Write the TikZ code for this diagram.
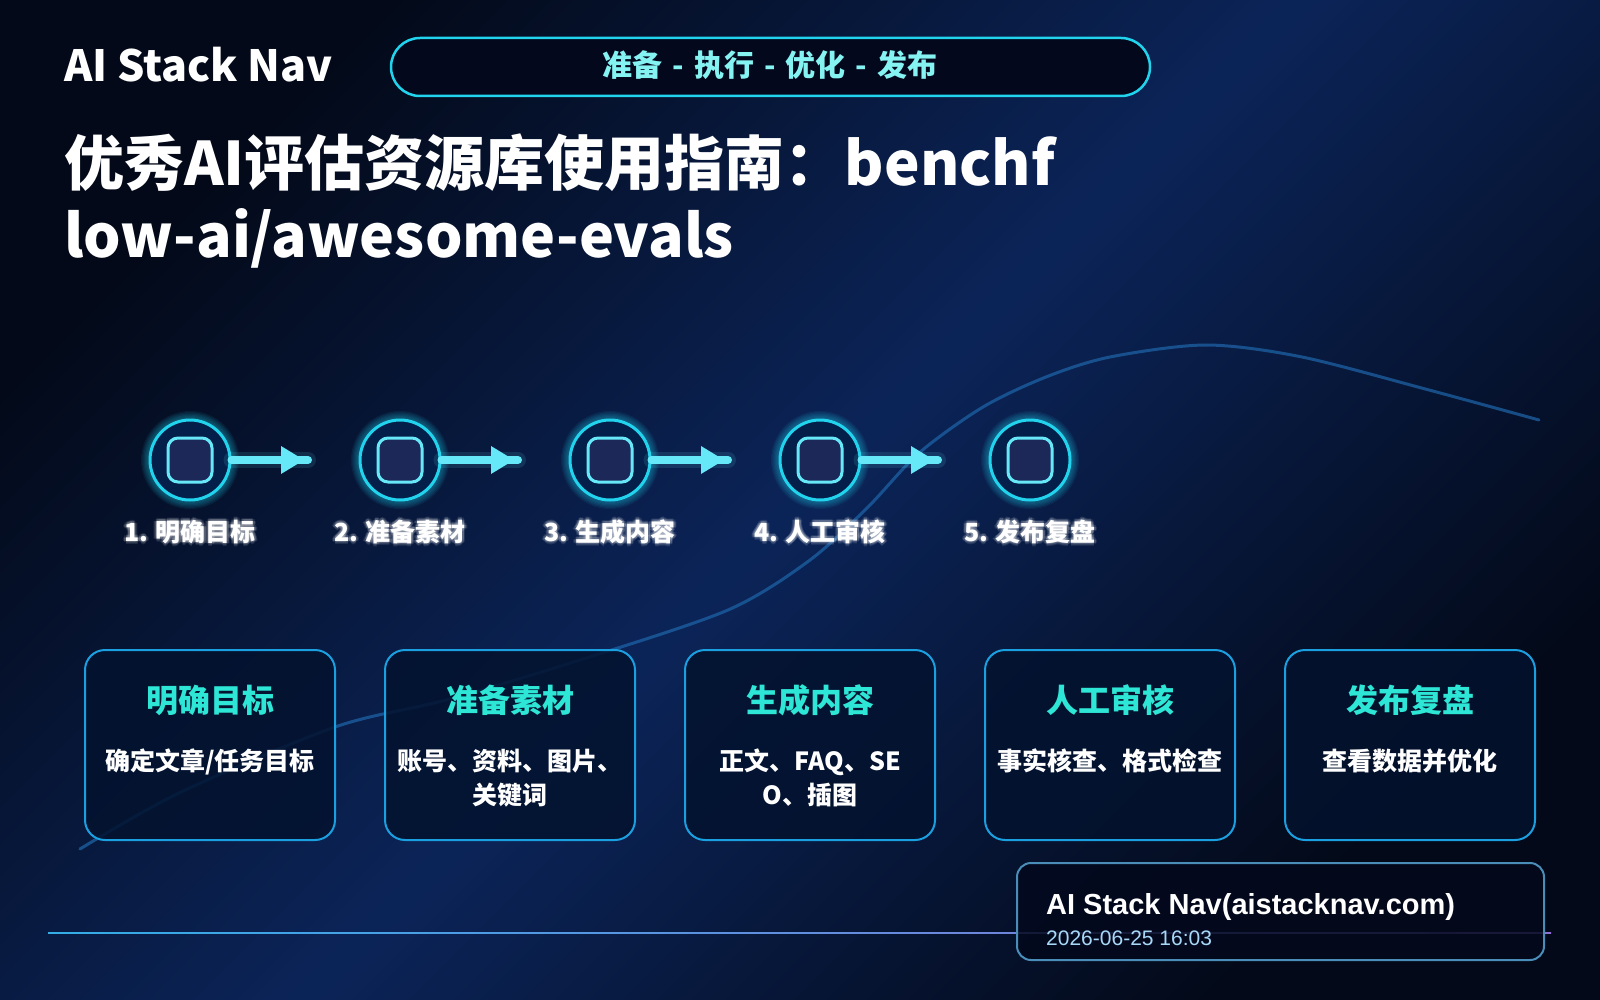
\documentclass[tikz,border=0pt]{standalone}
\usepackage{fontspec}
\setmainfont{Noto Sans CJK SC}
\newfontfamily\arialf{Liberation Sans}
\usetikzlibrary{calc}
\definecolor{bgdark}{HTML}{030918}
\definecolor{bgmid}{HTML}{0B2458}
\definecolor{cyanA}{HTML}{22D3EE}
\definecolor{cyanB}{HTML}{67E8F9}
\definecolor{pilltext}{HTML}{86F3F3}
\definecolor{teal}{HTML}{2EE6D6}
\definecolor{cardborder}{HTML}{1A9FE0}
\definecolor{cardfill}{HTML}{03122E}
\definecolor{circfill}{HTML}{04204A}
\definecolor{sqfill}{HTML}{1B2858}
\definecolor{footborder}{HTML}{4A8DB8}
\definecolor{footfill}{HTML}{03081C}
\definecolor{datecol}{HTML}{A8D8F8}
\definecolor{curvecol}{HTML}{1E64A8}
\definecolor{lineL}{HTML}{38BDF8}
\definecolor{lineR}{HTML}{9F7AEA}
\begin{document}
\begin{tikzpicture}[x=1pt,y=-1pt,
  stepcircle/.style={circle, draw=cyanA, line width=3pt, fill=circfill, minimum size=80pt, inner sep=0pt},
  stepsq/.style={rectangle, rounded corners=10pt, draw=cyanB, line width=3pt, fill=sqfill, minimum size=44pt, inner sep=0pt},
  steplabel/.style={anchor=base, font=\bfseries\fontsize{25}{30}\selectfont, text=white, inner sep=0pt},
  steparrow/.style={draw=cyanB, line width=8pt, line cap=round},
  card/.style={rectangle, rounded corners=20pt, draw=cardborder, line width=2pt, fill=cardfill, fill opacity=0.85, minimum width=250pt, minimum height=190pt, inner sep=0pt},
  cardtitle/.style={anchor=base, font=\bfseries\fontsize{32}{38}\selectfont, text=teal, inner sep=0pt},
  cardbody/.style={anchor=base, font=\bfseries\fontsize{25}{30}\selectfont, text=white, inner sep=0pt},
]
\useasboundingbox (0,0) rectangle (1600,1000);
% background
\shade[top color=bgdark, bottom color=bgdark, middle color=bgmid, shading angle=45] (0,0) rectangle (1600,1000);

% curve
\draw[curvecol, line width=3pt, opacity=0.72, line cap=round]
  plot[smooth, tension=0.5] coordinates {(80,849) (179,793) (335,727) (446,700) (580,660) (728,610) (810,560) (868,507) (919,453) (983,407) (1046,377) (1110,357) (1206,345) (1302,357) (1429,390) (1539,420)};

% header
\node[anchor=base west, inner sep=0pt, font=\bfseries\fontsize{43}{50}\selectfont, text=white] (brand) at (64,82) {AI Stack Nav};
\node[draw=cyanA, line width=2.5pt, fill=footfill, rounded corners=29pt, minimum width=759pt, minimum height=58pt, inner sep=0pt] (pill) at (770.5,67) {};
\node[anchor=base, inner sep=0pt, font=\bfseries\fontsize{30}{36}\selectfont, text=pilltext] (pilltxt) at (770,77) {准备\hspace{10pt}-\hspace{10pt}执行\hspace{10pt}-\hspace{10pt}优化\hspace{10pt}-\hspace{10pt}发布};

% title
\node[anchor=base west, inner sep=0pt, font=\bfseries\fontsize{60}{72}\selectfont, text=white] (title1) at (64,186) {优秀AI评估资源库使用指南：benchf};
\node[anchor=base west, inner sep=0pt, font=\bfseries\fontsize{59}{72}\selectfont, text=white] (title2) at (64,258) {low-ai/awesome-evals};

% steps
\foreach \i/\x/\lab in {1/190/明确目标, 2/400/准备素材, 3/610/生成内容, 4/820/人工审核, 5/1030/发布复盘}{
  \foreach \k in {1,...,6}{
    \draw[cyanA, opacity=0.07, line width={3+2.5*\k}] (\x,460) circle (40);
  }
  \node[stepcircle] (s\i) at (\x,460) {};
  \node[stepsq] (q\i) at (\x,460) {};
  \foreach \dx/\dy in {-2/0, 2/0, 0/-2, 0/2, -1.5/-1.5, 1.5/1.5, -1.5/1.5, 1.5/-1.5, -3/0, 3/0, 0/3, 0/-3}{
    \node[steplabel, text=white, opacity=0.10] at (\x+\dx,541+\dy) {\i. \lab};
  }
  \node[steplabel] (l\i) at (\x,541) {\i. \lab};
}
\foreach \i/\x in {1/190, 2/400, 3/610, 4/820}{
  \coordinate (t\i) at (\x+118,460);
  \draw[cyanB, opacity=0.12, line width=16pt, line cap=round] (s\i.east) -- (t\i);
  \draw[steparrow] (s\i.east) -- (t\i);
  \fill[cyanB] ($(t\i)+(-27,-14)$) -- ($(t\i)+(-4,0)$) -- ($(t\i)+(-27,14)$) -- cycle;
}

% cards
\foreach \i/\cx/\tt in {1/210/明确目标, 2/510/准备素材, 3/810/生成内容, 4/1110/人工审核, 5/1410/发布复盘}{
  \node[card] (c\i) at (\cx,745) {};
  \node[cardtitle] (ct\i) at (\cx,712) {\tt};
}
\node[cardbody] (b1) at (210,770) {确定文章/任务目标};
\node[cardbody] (b2a) at (510,770) {账号、资料、图片、};
\node[cardbody] (b2b) at (510,804) {关键词};
\node[cardbody] (b3a) at (810,770) {正文、FAQ、SE};
\node[cardbody] (b3b) at (810,804) {O、插图};
\node[cardbody] (b4) at (1110,770) {事实核查、格式检查};
\node[cardbody] (b5) at (1410,770) {查看数据并优化};

% bottom line
\shade[left color=lineL, right color=lineR, opacity=0.9] (48,932.2) rectangle (1551,933.8);

% footer
\node[rectangle, rounded corners=14pt, draw=footborder, line width=2pt, fill=footfill, fill opacity=0.85, minimum width=527pt, minimum height=97pt, inner sep=0pt] (foot) at (1280.5,911.5) {};
\node[anchor=base west, inner sep=0pt, font=\arialf\bfseries\fontsize{29}{32}\selectfont, text=white] (footname) at (1046,914) {AI Stack Nav(aistacknav.com)};
\node[anchor=base west, inner sep=0pt, font=\arialf\fontsize{21}{24}\selectfont, text=datecol] (footdate) at (1046,945) {2026-06-25 16:03};
\end{tikzpicture}
\end{document}
